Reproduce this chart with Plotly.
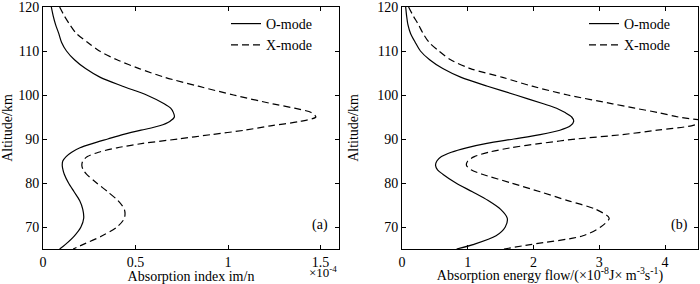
import plotly.graph_objects as go

# Altitude grid (km)
altitude = [120, 118, 116, 114, 112, 110, 108, 106, 104, 102, 100, 98, 97, 96, 95, 94, 93,
            92, 91, 90, 89, 88, 87, 86, 85, 84, 83, 82, 80, 78, 76, 74, 72, 70, 68, 66, 65]

# (a) Absorption index im/n (x1e-4)
index_o = [0.045, 0.055, 0.068, 0.085, 0.10, 0.127, 0.17, 0.23, 0.31, 0.43, 0.56, 0.655, 0.69,
           0.705, 0.71, 0.685, 0.63, 0.53, 0.43, 0.35, 0.27, 0.20, 0.155, 0.125, 0.107, 0.104,
           0.108, 0.115, 0.138, 0.168, 0.198, 0.215, 0.22, 0.205, 0.17, 0.12, 0.09]
index_x = [0.09, 0.115, 0.145, 0.18, 0.24, 0.305, 0.40, 0.52, 0.66, 0.84, 1.03, 1.24, 1.36,
           1.45, 1.475, 1.39, 1.23, 1.09, 0.91, 0.73, 0.54, 0.40, 0.30, 0.24, 0.215, 0.21,
           0.217, 0.235, 0.29, 0.35, 0.405, 0.44, 0.44, 0.40, 0.32, 0.215, 0.163]

# (b) Absorption energy flow (x1e-8 J m^-3 s^-1)
flow_o = [0.056, 0.07, 0.09, 0.13, 0.20, 0.28, 0.42, 0.62, 0.90, 1.30, 1.73, 2.15, 2.35, 2.48,
          2.58, 2.61, 2.56, 2.40, 2.10, 1.70, 1.29, 0.98, 0.75, 0.60, 0.53, 0.51, 0.54, 0.62,
          0.82, 1.07, 1.31, 1.50, 1.60, 1.57, 1.43, 1.08, 0.83]
flow_x = [0.10, 0.17, 0.25, 0.32, 0.41, 0.56, 0.74, 1.04, 1.53, 1.98, 2.52, 3.20, 3.54, 3.90,
          4.20, 4.60, 4.40, 3.88, 3.35, 2.65, 2.11, 1.65, 1.32, 1.10, 1.00, 0.98, 1.05, 1.22,
          1.66, 2.10, 2.52, 2.95, 3.15, 3.02, 2.75, 1.95, 1.55]

y_ticks = [70, 80, 90, 100, 110, 120]
xa_ticks = [0, 0.5, 1, 1.5]
xa_labels = ["0", "0.5", "1", "1.5"]
xb_ticks = [0, 1, 2, 3, 4]

FONT = "Liberation Serif"
lw = 1.2
DASH = "7px,4px"

fig = go.Figure()
fig.add_trace(go.Scatter(x=index_o, y=altitude, mode="lines", name="O-mode",
                         line=dict(color="black", width=lw, shape="spline", smoothing=0.8),
                         xaxis="x", yaxis="y", legend="legend"))
fig.add_trace(go.Scatter(x=index_x, y=altitude, mode="lines", name="X-mode",
                         line=dict(color="black", width=lw, dash=DASH, shape="spline", smoothing=0.8),
                         xaxis="x", yaxis="y", legend="legend"))
fig.add_trace(go.Scatter(x=flow_o, y=altitude, mode="lines", name="O-mode",
                         line=dict(color="black", width=lw, shape="spline", smoothing=0.8),
                         xaxis="x2", yaxis="y2", legend="legend2"))
fig.add_trace(go.Scatter(x=flow_x, y=altitude, mode="lines", name="X-mode",
                         line=dict(color="black", width=lw, dash=DASH, shape="spline", smoothing=0.8),
                         xaxis="x2", yaxis="y2", legend="legend2"))

W, H = 700, 284
ml, mr, mt, mb = 43, 2, 7, 35
pw = W - ml - mr
ph = H - mt - mb
def px(x):
    return (x - ml) / pw
def py(y):
    return 1 - (y - mt) / ph

axis_common = dict(showline=True, linecolor="black", linewidth=1, mirror="ticks",
                   ticks="inside", ticklen=4, tickcolor="black", showgrid=False,
                   zeroline=False, automargin=False, ticklabeloverflow="allow",
                   tickfont=dict(family=FONT, size=14, color="black"))

fig.update_layout(
    width=W, height=H,
    margin=dict(l=ml, r=mr, t=mt, b=mb, autoexpand=False),
    paper_bgcolor="white", plot_bgcolor="white",
    font=dict(family=FONT, size=14, color="black"),
    showlegend=True,
    xaxis=dict(domain=[0, px(339)], range=[0, 1.6], tickvals=xa_ticks, ticktext=xa_labels,
               anchor="y", title=dict(text="Absorption index im/n",
                                      font=dict(family=FONT, size=14)), **axis_common),
    yaxis=dict(domain=[0, 1], range=[65, 120], tickvals=y_ticks, anchor="x",
               title=dict(text="Altitude/km", font=dict(family=FONT, size=14)),
               **axis_common),
    xaxis2=dict(domain=[px(402), 1], range=[0, 4.5], tickvals=xb_ticks, anchor="y2",
                title=dict(text="Absorption energy flow/(×10<sup>-8</sup>J× m<sup>-3</sup>s<sup>-1</sup>)",
                           font=dict(family=FONT, size=14)), **axis_common),
    yaxis2=dict(domain=[0, 1], range=[65, 120], tickvals=y_ticks, anchor="x2",
                title=dict(text="Altitude/km", font=dict(family=FONT, size=14)),
                **axis_common),
    legend=dict(x=px(226), y=py(8), xanchor="left", yanchor="top",
                bgcolor="rgba(0,0,0,0)", font=dict(family=FONT, size=14),
                tracegroupgap=0, itemwidth=30),
    legend2=dict(x=px(584), y=py(8), xanchor="left", yanchor="top",
                 bgcolor="rgba(0,0,0,0)", font=dict(family=FONT, size=14),
                 tracegroupgap=0, itemwidth=30),
    annotations=[
        dict(text="×10<sup>-4</sup>", x=1.6, y=py(262), xref="x", yref="paper",
             xanchor="right", yanchor="top", showarrow=False,
             font=dict(family=FONT, size=13)),
        dict(text="(a)", x=1.55, y=70.5, xref="x", yref="y", xanchor="right", yanchor="middle",
             showarrow=False, font=dict(family=FONT, size=14)),
        dict(text="(b)", x=4.38, y=70.5, xref="x2", yref="y2", xanchor="right", yanchor="middle",
             showarrow=False, font=dict(family=FONT, size=14)),
    ],
)

fig.write_html("out.html", config={"displayModeBar": False},
               post_script="document.body.style.margin='0';document.body.style.overflow='hidden';")
